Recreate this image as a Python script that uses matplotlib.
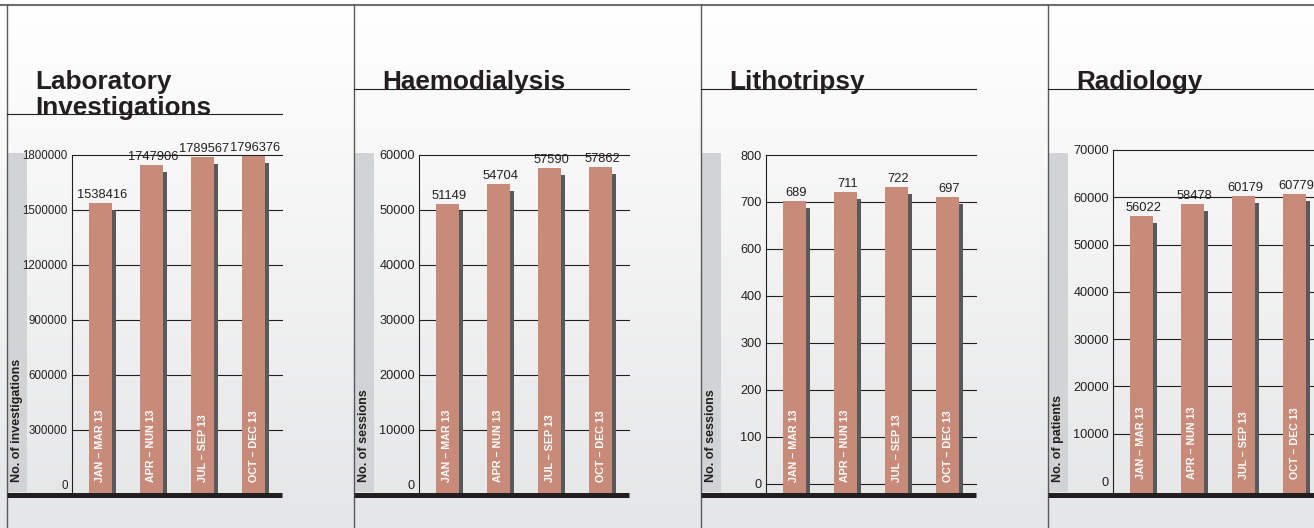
import numpy as np
import matplotlib.pyplot as plt
from matplotlib.lines import Line2D
from matplotlib.patches import Rectangle
from matplotlib.transforms import offset_copy

plt.rcParams['font.family'] = ['Liberation Sans', 'DejaVu Sans']

# chart data
quarters = ['JAN – MAR 13', 'APR – NUN 13', 'JUL – SEP 13', 'OCT – DEC 13']

titles = ['Laboratory\nInvestigations', 'Haemodialysis', 'Lithotripsy', 'Radiology']
ylabels = ['No. of investigations', 'No. of sessions', 'No. of sessions', 'No. of patients']

lab_values = [1538416, 1747906, 1789567, 1796376]
haemo_values = [51149, 54704, 57590, 57862]
litho_values = [689, 711, 722, 697]
radio_values = [56022, 58478, 60179, 60779]

lab_ticks = [0, 300000, 600000, 900000, 1200000, 1500000, 1800000]
haemo_ticks = [0, 10000, 20000, 30000, 40000, 50000, 60000]
# printed this way in the original (no 500), evenly spaced up to 800
litho_ticks = [0, 100, 200, 300, 400, 600, 700, 800]
radio_ticks = [0, 10000, 20000, 30000, 40000, 50000, 60000, 70000]

W, H = 1314, 528
ink = '#231f20'
bar_col = '#c98b79'
shadow_col = '#58595b'
band_col = '#d1d3d4'


def fx(x):
    return x / W


def fy(y):
    return 1 - y / H


fig = plt.figure(figsize=(W / 100, H / 100), dpi=100)

# background: soft vertical gradient
bg = fig.add_axes([0, 0, 1, 1], zorder=-5)
t = np.linspace(0, 1, H)[:, None, None]
top_c = np.array([1.0, 1.0, 1.0])
bot_c = np.array([0.898, 0.902, 0.906])
grad = top_c * (1 - t) + bot_c * t
bg.imshow(grad, aspect='auto', extent=[0, 1, 0, 1], origin='upper')
bg.set_axis_off()

# top border
fig.add_artist(Line2D([0, 1], [fy(5), fy(5)], color='#6d6e71', lw=1.5))

panels = [
    (lab_values, lab_ticks, lab_ticks, 155, 484.5, 8.3),
    (haemo_values, haemo_ticks, haemo_ticks, 155, 484.5, 9.2),
    (litho_values, litho_ticks, list(np.linspace(0, 800, len(litho_ticks))), 155, 483.5, 9.2),
    (radio_values, radio_ticks, radio_ticks, 150, 481, 9.2),
]

bottom = 494.5
for i, (vals, labels, pos, top, zero, tsize) in enumerate(panels):
    dx = 347 * i
    left, right = 72 + dx, 282 + dx

    # panel divider
    fig.add_artist(Line2D([fx(7 + dx), fx(7 + dx)], [fy(5), 0], color='#58595b', lw=1.0))

    # title and its rule (multi-line title: last line sits on the rule)
    rule_y = 114.3 if i == 0 else 89
    fig.add_artist(Line2D([fx(7 + dx), fx(right)], [fy(rule_y), fy(rule_y)], color=ink, lw=0.8))
    fig.text(fx(35 + dx), fy(rule_y + 0.5), titles[i], fontsize=18.8, fontweight='bold',
             color=ink, ha='left', va='baseline', linespacing=1.12, zorder=4)

    # grey strip with the y label
    fig.add_artist(Rectangle((fx(7 + dx), fy(492)), 20 / W, (492 - 152.7) / H,
                             transform=fig.transFigure, facecolor=band_col,
                             edgecolor='none', zorder=-1))
    fig.text(fx(17.3 + dx), fy(482.5), ylabels[i], rotation=90, fontsize=9,
             fontweight='bold', color=ink, ha='center', va='bottom')

    ax = fig.add_axes([fx(left), fy(bottom), (right - left) / W, (bottom - top) / H])
    ax.patch.set_alpha(0)
    ymax = pos[-1]
    y0 = -(bottom - zero) / (zero - top) * ymax
    x = np.arange(len(vals))
    heights = np.array(vals) - y0

    shadow_tr = offset_copy(ax.transData, fig=fig, x=4, y=-7, units='dots')
    shadows = ax.bar(x, heights, bottom=y0, width=0.451, color=shadow_col, zorder=2)
    for p in shadows:
        p.set_transform(shadow_tr)
    ax.bar(x, heights, bottom=y0, width=0.451, color=bar_col, zorder=3)

    # gridlines (only the lithotripsy chart has one at zero)
    for p in pos:
        if p == 0 and i != 2:
            continue
        ax.axhline(p, color=ink, lw=0.8, zorder=1, clip_on=False)

    val_tr = offset_copy(ax.transData, fig=fig, x=2, y=5, units='dots')
    cat_tr = offset_copy(ax.transData, fig=fig, x=0, y=2, units='dots')
    for xi, v, q in zip(x, vals, quarters):
        ax.text(xi, v, str(v), transform=val_tr, ha='center', va='baseline',
                fontsize=9.3, color=ink, zorder=5)
        ax.text(xi, 0, q, transform=cat_tr, rotation=90, ha='center', va='bottom',
                fontsize=7.7, fontweight='bold', color='white', zorder=5)

    ax.set_xlim(-0.5588, 3.5588)
    ax.set_ylim(y0, ymax)
    ax.set_xticks([])
    ax.set_yticks(pos, [str(l) for l in labels])
    ax.tick_params(axis='y', length=0, pad=3, labelsize=tsize, labelcolor=ink)
    for s in ['top', 'right', 'bottom']:
        ax.spines[s].set_visible(False)
    ax.spines['left'].set_color(ink)
    ax.spines['left'].set_linewidth(0.8)

    # heavy base line
    fig.add_artist(Line2D([fx(7 + dx), fx(right)], [fy(bottom), fy(bottom)],
                          color=ink, lw=3.6, solid_capstyle='butt'))

fig.savefig('out.png', dpi=100)
